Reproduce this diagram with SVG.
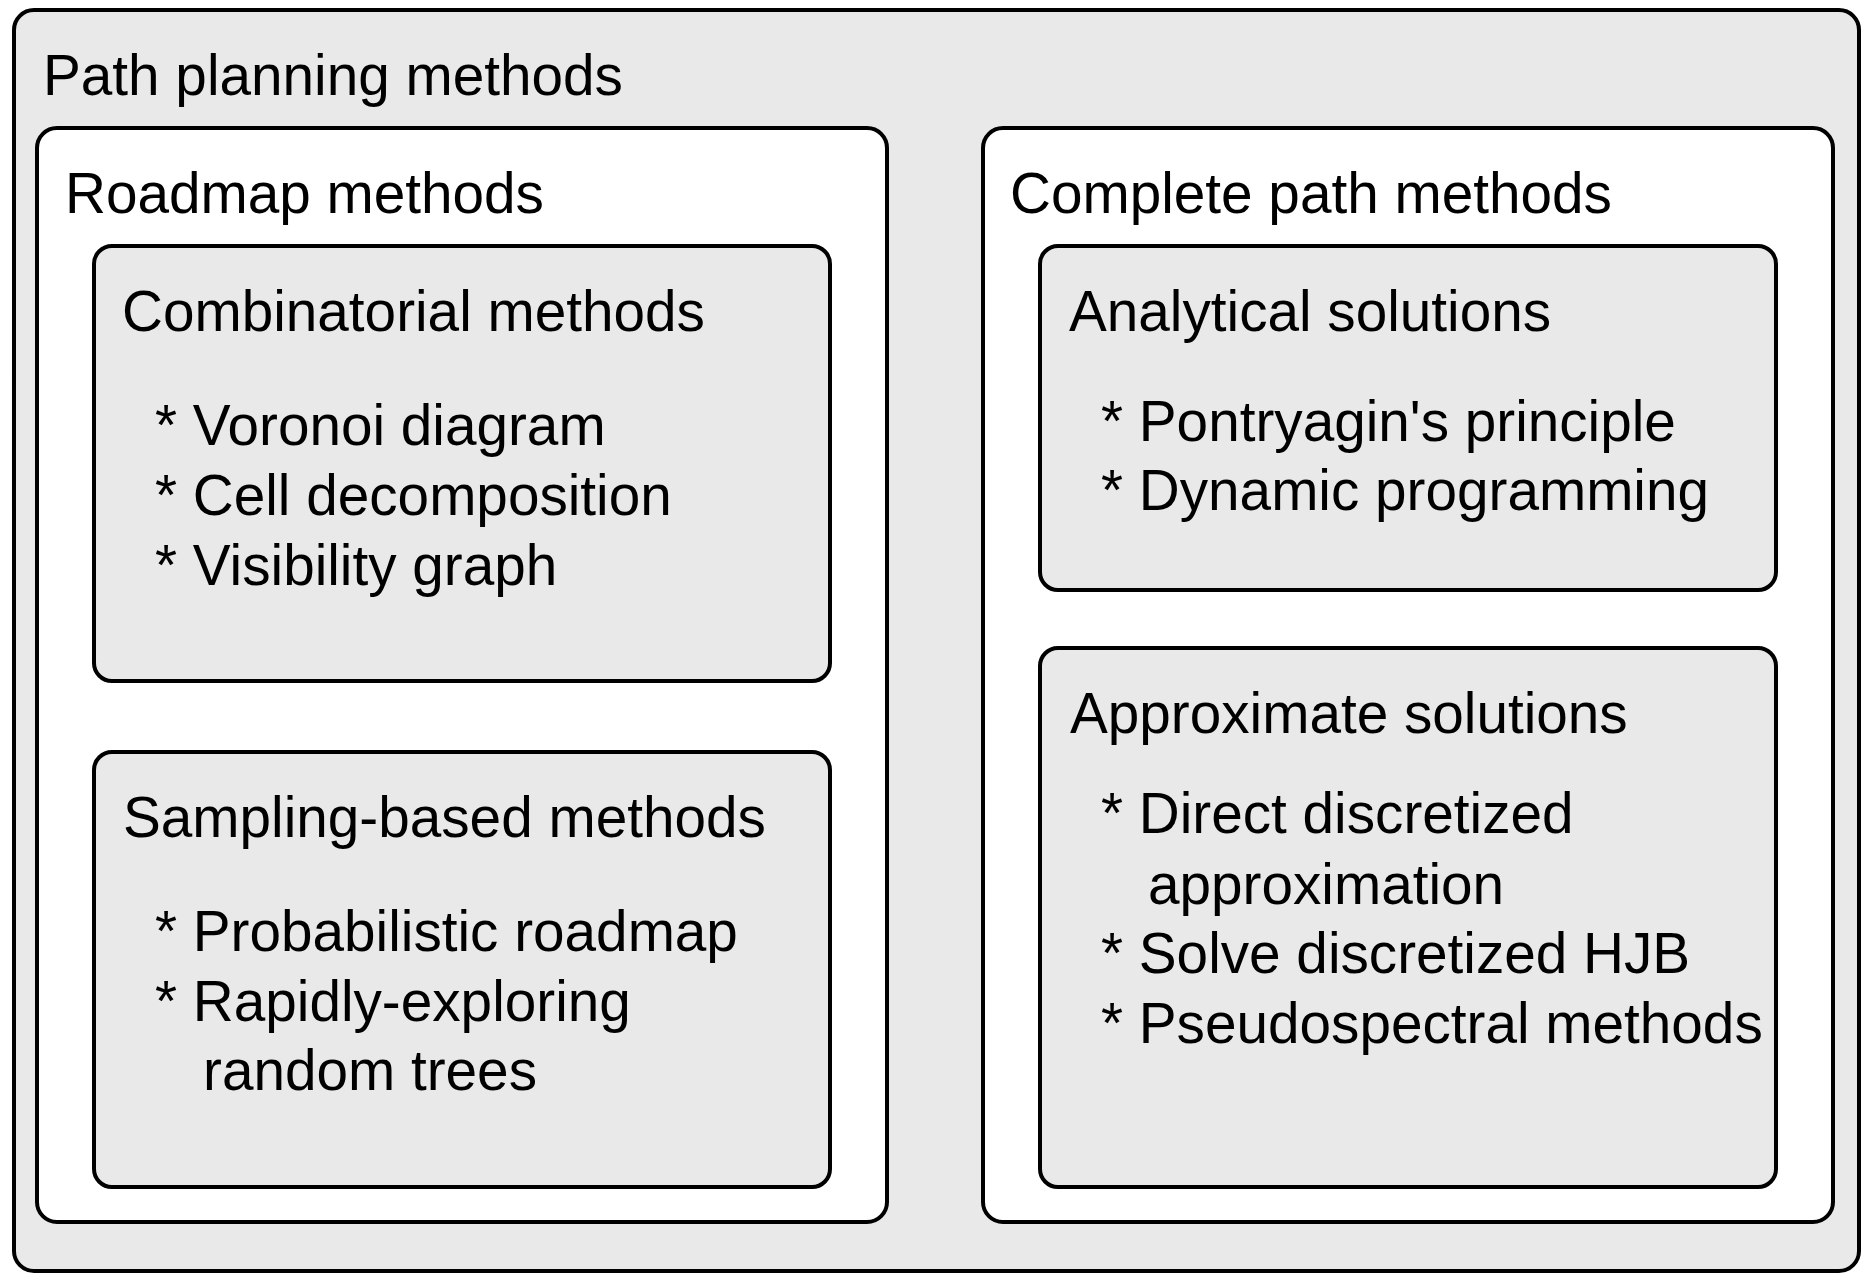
<svg xmlns="http://www.w3.org/2000/svg" width="1872" height="1284" viewBox="0 0 1872 1284">
<style>
.box{stroke:#000;stroke-width:4}
.gray{fill:#e9e9e9}
.white{fill:#ffffff}
text{font-family:"Liberation Sans",Arial,sans-serif;font-size:56.7px;fill:#000}
</style>
<rect width="1872" height="1284" fill="#ffffff"/>
<g id="path-planning">
<rect class="box gray" x="14" y="10" width="1845" height="1261" rx="20"/>
<text x="43" y="95">Path planning methods</text>
</g>
<g id="roadmap">
<rect class="box white" x="37" y="128" width="850" height="1094" rx="20"/>
<text x="65" y="213">Roadmap methods</text>
</g>
<g id="complete">
<rect class="box white" x="983" y="128" width="850" height="1094" rx="20"/>
<text x="1010" y="213">Complete path methods</text>
</g>
<g id="combinatorial">
<rect class="box gray" x="94" y="246" width="736" height="435" rx="18"/>
<text x="122" y="331">Combinatorial methods</text>
<text x="155" y="445">* Voronoi diagram</text>
<text x="155" y="515">* Cell decomposition</text>
<text x="155" y="585">* Visibility graph</text>
</g>
<g id="sampling">
<rect class="box gray" x="94" y="752" width="736" height="435" rx="18"/>
<text x="123" y="837">Sampling-based methods</text>
<text x="155" y="951">* Probabilistic roadmap</text>
<text x="155" y="1021">* Rapidly-exploring</text>
<text x="203" y="1090">random trees</text>
</g>
<g id="analytical">
<rect class="box gray" x="1040" y="246" width="736" height="344" rx="18"/>
<text x="1069" y="331">Analytical solutions</text>
<text x="1101" y="441">* Pontryagin's principle</text>
<text x="1101" y="510">* Dynamic programming</text>
</g>
<g id="approximate">
<rect class="box gray" x="1040" y="648" width="736" height="539" rx="18"/>
<text x="1070" y="733">Approximate solutions</text>
<text x="1101" y="833">* Direct discretized</text>
<text x="1148" y="904">approximation</text>
<text x="1101" y="973">* Solve discretized HJB</text>
<text x="1101" y="1043">* Pseudospectral methods</text>
</g>
<g id="connectors"></g>
</svg>
